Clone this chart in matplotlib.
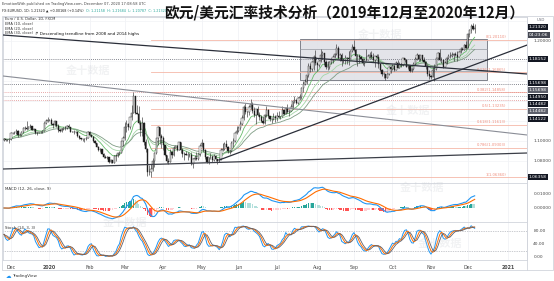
import matplotlib.pyplot as plt
import matplotlib.patches as patches
import numpy as np
import pandas as pd

plt.rcParams['font.family'] = ['DejaVu Sans']

# daily EUR/USD bars, 26 Nov 2019 .. 7 Dec 2020 (business days)
dates = pd.bdate_range('2019-11-26', '2020-12-07')
first_open = 1.1015
closes = [
    1.1019, 1.1009, 1.1008, 1.1017,
    1.1079, 1.1081, 1.1078, 1.1105, 1.1058, 1.1064, 1.1092, 1.1130, 1.1130, 1.1121, 1.1144, 1.1150, 1.1113, 1.1122, 1.1079, 1.1089, 1.1089, 1.1090, 1.1100, 1.1178, 1.1200, 1.1213,
    1.1213, 1.1171, 1.1158, 1.1196, 1.1152, 1.1107, 1.1104, 1.1121, 1.1134, 1.1126, 1.1151, 1.1136, 1.1093, 1.1095, 1.1086, 1.1092, 1.1054, 1.1026, 1.1019, 1.1021, 1.1022, 1.1034, 1.1092,
    1.1059, 1.1045, 1.0999, 1.0981, 1.0945, 1.0911, 1.0917, 1.0872, 1.0840, 1.0830, 1.0837, 1.0792, 1.0806, 1.0781, 1.0846, 1.0853, 1.0880, 1.0881, 1.0998, 1.1026,
    1.1137, 1.1175, 1.1136, 1.1236, 1.1284, 1.1447, 1.1284, 1.1268, 1.1185, 1.1106, 1.1183, 1.0995, 1.0916, 1.0692, 1.0694, 1.0722, 1.0797, 1.0885, 1.1030, 1.1142, 1.1046, 1.1030,
    1.0962, 1.0857, 1.0802, 1.0792, 1.0893, 1.0856, 1.0935, 1.0950, 1.0913, 1.0986, 1.0911, 1.0867, 1.0875, 1.0863, 1.0856, 1.0856, 1.0775, 1.0819, 1.0826, 1.0823, 1.0873, 1.0954,
    1.0982, 1.0907, 1.0837, 1.0794, 1.0839, 1.0843, 1.0807, 1.0850, 1.0817, 1.0805, 1.0820, 1.0915, 1.0924, 1.0975, 1.0945, 1.0902, 1.0902, 1.0982, 1.1005, 1.1078, 1.1100,
    1.1134, 1.1171, 1.1235, 1.1341, 1.1289, 1.1293, 1.1342, 1.1371, 1.1300, 1.1256, 1.1318, 1.1264, 1.1241, 1.1205, 1.1178, 1.1258, 1.1307, 1.1249, 1.1219, 1.1219, 1.1244, 1.1233,
    1.1251, 1.1238, 1.1245, 1.1310, 1.1273, 1.1329, 1.1287, 1.1300, 1.1342, 1.1397, 1.1411, 1.1383, 1.1428, 1.1445, 1.1528, 1.1570, 1.1595, 1.1656, 1.1754, 1.1718, 1.1792, 1.1845, 1.1778,
    1.1763, 1.1800, 1.1858, 1.1876, 1.1787, 1.1736, 1.1740, 1.1787, 1.1812, 1.1842, 1.1870, 1.1932, 1.1832, 1.1858, 1.1797, 1.1812, 1.1835, 1.1831, 1.1817, 1.1903, 1.1937,
    1.1913, 1.1855, 1.1850, 1.1838, 1.1816, 1.1780, 1.1807, 1.1813, 1.1845, 1.1864, 1.1845, 1.1815, 1.1848, 1.1839, 1.1770, 1.1707, 1.1668, 1.1671, 1.1631, 1.1666, 1.1745, 1.1720,
    1.1748, 1.1713, 1.1781, 1.1734, 1.1770, 1.1756, 1.1826, 1.1815, 1.1745, 1.1746, 1.1705, 1.1717, 1.1770, 1.1822, 1.1862, 1.1818, 1.1860, 1.1811, 1.1794, 1.1747, 1.1673, 1.1647,
    1.1640, 1.1715, 1.1718, 1.1828, 1.1876, 1.1815, 1.1810, 1.1741, 1.1778, 1.1833, 1.1855, 1.1850, 1.1858, 1.1870, 1.1858, 1.1842, 1.1891, 1.1917, 1.1915, 1.1965, 1.1927,
    1.2070, 1.2114, 1.2148, 1.2116, 1.2132]
highs = [
    1.1026, 1.1025, 1.1018, 1.1024,
    1.1090, 1.1093, 1.1096, 1.1116, 1.1111, 1.1079, 1.1096, 1.1145, 1.1155, 1.1199, 1.1153, 1.1175, 1.1153, 1.1131, 1.1125, 1.1094, 1.1095, 1.1096, 1.1107, 1.1188, 1.1217, 1.1239,
    1.1225, 1.1226, 1.1180, 1.1206, 1.1202, 1.1166, 1.1119, 1.1126, 1.1143, 1.1147, 1.1160, 1.1173, 1.1145, 1.1102, 1.1108, 1.1104, 1.1096, 1.1059, 1.1035, 1.1030, 1.1029, 1.1043, 1.1096,
    1.1097, 1.1066, 1.1048, 1.1009, 1.0984, 1.0951, 1.0929, 1.0924, 1.0876, 1.0863, 1.0851, 1.0842, 1.0817, 1.0810, 1.0863, 1.0868, 1.0890, 1.0900, 1.1005, 1.1053,
    1.1186, 1.1214, 1.1185, 1.1245, 1.1356, 1.1495, 1.1449, 1.1357, 1.1346, 1.1209, 1.1236, 1.1193, 1.1025, 1.0929, 1.0759, 1.0768, 1.0829, 1.0887, 1.1035, 1.1147, 1.1114, 1.1070,
    1.1047, 1.0965, 1.0862, 1.0833, 1.0925, 1.0892, 1.0952, 1.0955, 1.0957, 1.0991, 1.0990, 1.0928, 1.0889, 1.0902, 1.0888, 1.0885, 1.0889, 1.0830, 1.0862, 1.0890, 1.0878, 1.0972,
    1.1019, 1.0984, 1.0924, 1.0849, 1.0843, 1.0876, 1.0862, 1.0868, 1.0865, 1.0822, 1.0833, 1.0926, 1.0976, 1.0994, 1.1008, 1.0950, 1.0915, 1.0996, 1.1030, 1.1093, 1.1147,
    1.1154, 1.1196, 1.1257, 1.1361, 1.1384, 1.1301, 1.1362, 1.1422, 1.1388, 1.1337, 1.1325, 1.1350, 1.1293, 1.1258, 1.1245, 1.1270, 1.1349, 1.1316, 1.1251, 1.1234, 1.1285, 1.1258,
    1.1289, 1.1302, 1.1255, 1.1346, 1.1315, 1.1343, 1.1371, 1.1314, 1.1375, 1.1403, 1.1452, 1.1421, 1.1445, 1.1468, 1.1540, 1.1601, 1.1625, 1.1660, 1.1782, 1.1776, 1.1805, 1.1858, 1.1909,
    1.1793, 1.1811, 1.1916, 1.1900, 1.1885, 1.1806, 1.1805, 1.1802, 1.1829, 1.1858, 1.1883, 1.1966, 1.1951, 1.1877, 1.1883, 1.1835, 1.1863, 1.1845, 1.1898, 1.1914, 1.1966,
    1.2011, 1.1918, 1.1868, 1.1872, 1.1848, 1.1832, 1.1828, 1.1917, 1.1872, 1.1886, 1.1900, 1.1883, 1.1852, 1.1872, 1.1873, 1.1784, 1.1720, 1.1688, 1.1675, 1.1683, 1.1750, 1.1754,
    1.1772, 1.1751, 1.1797, 1.1808, 1.1793, 1.1778, 1.1831, 1.1830, 1.1820, 1.1761, 1.1755, 1.1734, 1.1787, 1.1838, 1.1881, 1.1868, 1.1860, 1.1860, 1.1842, 1.1797, 1.1769, 1.1710,
    1.1665, 1.1745, 1.1770, 1.1832, 1.1891, 1.1920, 1.1838, 1.1815, 1.1800, 1.1838, 1.1870, 1.1895, 1.1890, 1.1880, 1.1890, 1.1905, 1.1900, 1.1939, 1.1941, 1.1966, 1.2002,
    1.2077, 1.2122, 1.2175, 1.2177, 1.2168]
lows = [
    1.1003, 1.0996, 1.1002, 1.0981,
    1.1015, 1.1067, 1.1067, 1.1073, 1.1040, 1.1052, 1.1055, 1.1078, 1.1106, 1.1106, 1.1117, 1.1135, 1.1106, 1.1100, 1.1066, 1.1065, 1.1076, 1.1083, 1.1084, 1.1098, 1.1175, 1.1194,
    1.1205, 1.1162, 1.1126, 1.1150, 1.1139, 1.1092, 1.1090, 1.1086, 1.1110, 1.1115, 1.1120, 1.1126, 1.1087, 1.1088, 1.1075, 1.1077, 1.1036, 1.1019, 1.1010, 1.1005, 1.0991, 1.1012, 1.1027,
    1.1052, 1.1039, 1.0992, 1.0975, 1.0941, 1.0905, 1.0892, 1.0866, 1.0835, 1.0827, 1.0825, 1.0785, 1.0784, 1.0778, 1.0779, 1.0802, 1.0840, 1.0858, 1.0879, 1.0953,
    1.1009, 1.1093, 1.1111, 1.1116, 1.1215, 1.1284, 1.1269, 1.1266, 1.1172, 1.1055, 1.1053, 1.0961, 1.0895, 1.0654, 1.0660, 1.0636, 1.0700, 1.0745, 1.0870, 1.0962, 1.0968, 1.0928,
    1.0906, 1.0847, 1.0780, 1.0768, 1.0792, 1.0831, 1.0846, 1.0926, 1.0898, 1.0913, 1.0880, 1.0842, 1.0812, 1.0857, 1.0814, 1.0836, 1.0757, 1.0727, 1.0810, 1.0814, 1.0812, 1.0851,
    1.0936, 1.0895, 1.0825, 1.0782, 1.0766, 1.0819, 1.0787, 1.0798, 1.0805, 1.0775, 1.0788, 1.0810, 1.0905, 1.0914, 1.0941, 1.0884, 1.0871, 1.0890, 1.0942, 1.0988, 1.1072,
    1.1093, 1.1109, 1.1160, 1.1208, 1.1272, 1.1242, 1.1262, 1.1323, 1.1285, 1.1239, 1.1167, 1.1250, 1.1213, 1.1194, 1.1168, 1.1169, 1.1238, 1.1235, 1.1198, 1.1182, 1.1206, 1.1190,
    1.1200, 1.1230, 1.1220, 1.1238, 1.1265, 1.1272, 1.1278, 1.1254, 1.1300, 1.1316, 1.1382, 1.1369, 1.1371, 1.1409, 1.1421, 1.1489, 1.1556, 1.1572, 1.1641, 1.1690, 1.1702, 1.1713, 1.1760,
    1.1696, 1.1741, 1.1789, 1.1824, 1.1756, 1.1722, 1.1711, 1.1718, 1.1772, 1.1776, 1.1826, 1.1862, 1.1825, 1.1802, 1.1753, 1.1782, 1.1774, 1.1768, 1.1762, 1.1820, 1.1888,
    1.1902, 1.1789, 1.1753, 1.1782, 1.1811, 1.1765, 1.1752, 1.1800, 1.1812, 1.1833, 1.1822, 1.1790, 1.1737, 1.1826, 1.1729, 1.1700, 1.1652, 1.1626, 1.1612, 1.1627, 1.1664, 1.1684,
    1.1714, 1.1696, 1.1718, 1.1730, 1.1726, 1.1737, 1.1753, 1.1794, 1.1737, 1.1724, 1.1688, 1.1689, 1.1708, 1.1763, 1.1812, 1.1803, 1.1798, 1.1797, 1.1786, 1.1718, 1.1650, 1.1622,
    1.1622, 1.1640, 1.1603, 1.1712, 1.1812, 1.1800, 1.1778, 1.1731, 1.1745, 1.1772, 1.1820, 1.1830, 1.1840, 1.1800, 1.1846, 1.1803, 1.1839, 1.1880, 1.1906, 1.1908, 1.1925,
    1.1928, 1.2040, 1.2085, 1.2110, 1.2079]

ema_periods = [10, 20, 30]
ema_colors = ['#66bb6a', '#a5d6a7', '#7f9c84']

# drawings (bar index, price)
trend_lines = [((-0.6, 1.206), (299, 1.167), '#2a2e39', 0.9),
               ((-0.6, 1.165), (299, 1.106), '#8a8d96', 0.8),
               ((-0.6, 1.072), (299, 1.088), '#3b3e47', 0.9),
               ((123, 1.081), (299, 1.196), '#2a2e39', 0.9)]
dotted_levels = [1.18152, 1.15698, 1.14950, 1.14482, 1.14122]
dotted_colors = ['#5d606b', '#5d606b', '#e08a8a', '#a0a0a8', '#e08a8a']
fib_low, fib_high = 1.0636, 1.2011
fib_ratios = [0, 0.236, 0.382, 0.5, 0.618, 0.786, 1]
box_bottom, box_top = 1.161, 1.202
box_inner = [1.192, 1.170]

# ---- derived series
closes = np.array(closes)
highs = np.array(highs)
lows = np.array(lows)
opens = np.r_[first_open, closes[:-1]]
highs = np.maximum(highs, np.maximum(opens, closes))
lows = np.minimum(lows, np.minimum(opens, closes))
n = len(closes)
idx = np.arange(n)
cs = pd.Series(closes)

macd = cs.ewm(span=12, adjust=False).mean() - cs.ewm(span=26, adjust=False).mean()
signal = macd.ewm(span=9, adjust=False).mean()
hist = (macd - signal).values
hh = pd.Series(highs).rolling(14, min_periods=1).max()
ll = pd.Series(lows).rolling(14, min_periods=1).min()
k_raw = 100 * (cs - ll) / (hh - ll)
k = k_raw.rolling(3, min_periods=1).mean()
d = k.rolling(3, min_periods=1).mean()
d2 = d.rolling(3, min_periods=1).mean()

# ---- layout in pixels
W, H = 554, 281
fig = plt.figure(figsize=(W / 100, H / 100), dpi=100)
X0, X1 = 3, 527
XL = (-0.57, 298.9)


def pane(top, bottom):
    a = fig.add_axes([X0 / W, 1 - bottom / H, (X1 - X0) / W, (bottom - top) / H])
    a.set_xlim(*XL)
    a.set_xticks([])
    a.set_yticks([])
    for s in a.spines.values():
        s.set_color('#d1d4dc')
        s.set_linewidth(0.6)
    return a


ax = pane(17, 183)
ax.set_ylim(1.058, 1.224)
axm = pane(183, 222)
axm.set_ylim(-0.01, 0.01786)
axs = pane(222, 260)
axs.set_ylim(-9.2, 107.7)

# month grid + time axis
all_days = pd.bdate_range('2019-11-26', '2021-01-08')
starts = [i for i in range(1, len(all_days)) if all_days[i].month != all_days[i - 1].month]
mlabels = [str(all_days[i].year) if all_days[i].month == 1 else all_days[i].strftime('%b') for i in starts]
for a in (ax, axm, axs):
    for s in starts:
        a.axvline(s, color='#eef0f4', lw=0.5, zorder=0)
axs.set_xticks(starts)
axs.set_xticklabels(mlabels, fontsize=3.4, color='#4a4a4a')
axs.tick_params(axis='x', length=0, pad=3.5)
for t in axs.get_xticklabels():
    if t.get_text().isdigit():
        t.set_fontweight('bold')

# price pane grid
for p in [1.08, 1.10, 1.12, 1.14, 1.16, 1.18, 1.20, 1.22]:
    ax.axhline(p, color='#f2f3f6', lw=0.5, zorder=0)

# box
ax.add_patch(patches.Rectangle((169, box_bottom), 107, box_top - box_bottom,
                               fc='#dfe0e6', ec='#6b6e78', lw=0.7, alpha=0.85, zorder=1))
for y in box_inner:
    ax.plot([169, 276], [y, y], color='#9598a1', lw=0.5, zorder=1)

# fib retracement
fib_start = 84
for r in fib_ratios:
    lv = fib_high - r * (fib_high - fib_low)
    ax.plot([fib_start, XL[1]], [lv, lv], color='#f5b8a8', lw=0.6, zorder=1)
    ax.text(287, lv + 0.0006, '%g(%.5f)' % (r, lv), fontsize=2.7, color='#ef8f7f',
            ha='right', va='bottom', zorder=2)

for lv, c in zip(dotted_levels, dotted_colors):
    ax.axhline(lv, color=c, lw=0.6, ls=(0, (1, 1.5)), zorder=1)

# EMAs
for p, c in zip(ema_periods, ema_colors):
    ax.plot(idx, cs.ewm(span=p, adjust=False).mean(), color=c, lw=0.6, zorder=2)

# candles
up = closes >= opens
ax.vlines(idx, lows, highs, color='#1e1e1e', lw=0.4, zorder=3)
ax.bar(idx, np.maximum(np.abs(closes - opens), 0.00015), bottom=np.minimum(opens, closes),
       width=0.75, color=np.where(up, 'white', '#1e1e1e'), edgecolor='#1e1e1e',
       linewidth=0.3, zorder=3)

for (x0, y0), (x1, y1), c, lw in trend_lines:
    ax.plot([x0, x1], [y0, y1], color=c, lw=lw, zorder=4)

# MACD pane
prev = np.r_[0, hist[:-1]]
hcol = np.where(hist >= 0, np.where(hist > prev, '#26a69a', '#b2dfdb'),
                np.where(hist < prev, '#ff5252', '#ffcdd2'))
axm.bar(idx, hist, width=0.8, color=hcol, zorder=2)
axm.plot(idx, macd, color='#2196f3', lw=0.8, zorder=3)
axm.plot(idx, signal, color='#ff6d00', lw=0.8, zorder=3)

# Stoch pane
for lv in (80, 20):
    axs.axhline(lv, color='#9598a1', lw=0.5, ls=(0, (1, 1.5)), zorder=1)
axs.plot(idx, k, color='#2196f3', lw=0.7, zorder=3)
axs.plot(idx, d, color='#ff6d00', lw=0.7, zorder=3)
axs.plot(idx, d2, color='#5d606b', lw=0.6, zorder=3)

# right axis texts
tr = ax.get_yaxis_transform()
for v, s in [(1.20, '1.20000'), (1.10, '1.10000'), (1.08, '1.08000')]:
    ax.text(1.012, v, s, transform=tr, fontsize=3.2, color='#4a4a4a', va='center', ha='left')
for v, s in [(0.01, '0.01000'), (0.0, '0.00000')]:
    axm.text(1.012, v, s, transform=axm.get_yaxis_transform(), fontsize=3.2, color='#4a4a4a', va='center')
for v, s in [(80, '80.00'), (40, '40.00'), (0, '0.00')]:
    axs.text(1.012, v, s, transform=axs.get_yaxis_transform(), fontsize=3.2, color='#4a4a4a', va='center')

axis_tags = [('1.21320', 27, '#131722'), ('04:23:06', 35, '#434651'), ('1.18152', 59, '#131722'),
             ('1.15698', 83, '#131722'), ('1.15698', 90, '#5d606b'), ('1.14950', 97, '#131722'),
             ('1.14482', 104, '#131722'), ('1.14482', 111, '#5d606b'), ('1.14122', 119, '#131722'),
             ('1.06358', 177, '#131722')]
for s, ypx, c in axis_tags:
    fig.text(529 / W, 1 - ypx / H, s, fontsize=3.2, color='white', va='center', ha='left',
             bbox=dict(boxstyle='square,pad=0.25', fc=c, ec='none'))
fig.text(541 / W, 1 - 20 / H, 'USD', fontsize=2.8, color='#6a6d78', ha='center', va='center')

# legends
leg = ['Euro / U.S. Dollar, 1D, FXCM', 'EMA (10, close)', 'EMA (20, close)', 'EMA (30, close)']
for i, s in enumerate(leg):
    fig.text(5 / W, 1 - (19.5 + 4.6 * i) / H, s, fontsize=2.6, color='#333', va='center')
fig.text(35 / W, 1 - 33.5 / H, '\u21b1 Descending trendline from 2008 and 2014 highs',
         fontsize=3.0, color='#111', va='center')
fig.text(5 / W, 1 - 189 / H, 'MACD (12, 26, close, 9)', fontsize=2.8, color='#333', va='center')
fig.text(5 / W, 1 - 228 / H, 'Stoch (14, 3, 3)', fontsize=2.8, color='#333', va='center')

# header
fig.text(2 / W, 1 - 4 / H, 'EmotionWith published on TradingView.com, December 07, 2020 17:08:58 UTC',
         fontsize=2.6, color='#444', va='center')
fig.text(2 / W, 1 - 11 / H, 'FX:EURUSD, 1D: 1.21320 \u25b2 +0.00168 (+0.14%)',
         fontsize=2.4, color='#222', va='center')
fig.text(86 / W, 1 - 11 / H, 'O: 1.21158  H: 1.21684  L: 1.20787  C: 1.21320',
         fontsize=2.4, color='#26a69a', va='center')

# title
fig.text(344 / W, 1 - 12 / H, '欧元/美元汇率技术分析（2019年12月至2020年12月）',
         fontsize=10.6, fontweight='bold', color='#111', ha='center', va='center',
         family=['Noto Sans CJK SC', 'DejaVu Sans'])

# watermarks
for xw, yw in [(88, 70), (408, 110), (125, 222), (422, 187), (440, 243), (380, 34)]:
    fig.text(xw / W, 1 - yw / H, '金十数据', fontsize=8, color='#c9ccd3', alpha=0.25,
             ha='center', va='center', fontweight='bold', family=['Noto Sans CJK SC'])

# frame + footer
fig.add_artist(patches.Rectangle((2 / W, 1 - 270 / H), 551 / W, 254 / H, transform=fig.transFigure,
                                 fill=False, ec='#d1d4dc', lw=0.6))
fig.add_artist(plt.Line2D([X1 / W, X1 / W], [1 - 270 / H, 1 - 17 / H], transform=fig.transFigure,
                          color='#d1d4dc', lw=0.6))
fig.text(6 / W, 1 - 276 / H, '\u2601', fontsize=4, color='#2196f3', va='center')
fig.text(12 / W, 1 - 276 / H, 'TradingView', fontsize=3, color='#333', va='center')

fig.savefig('out.png', dpi=100, facecolor='white')
